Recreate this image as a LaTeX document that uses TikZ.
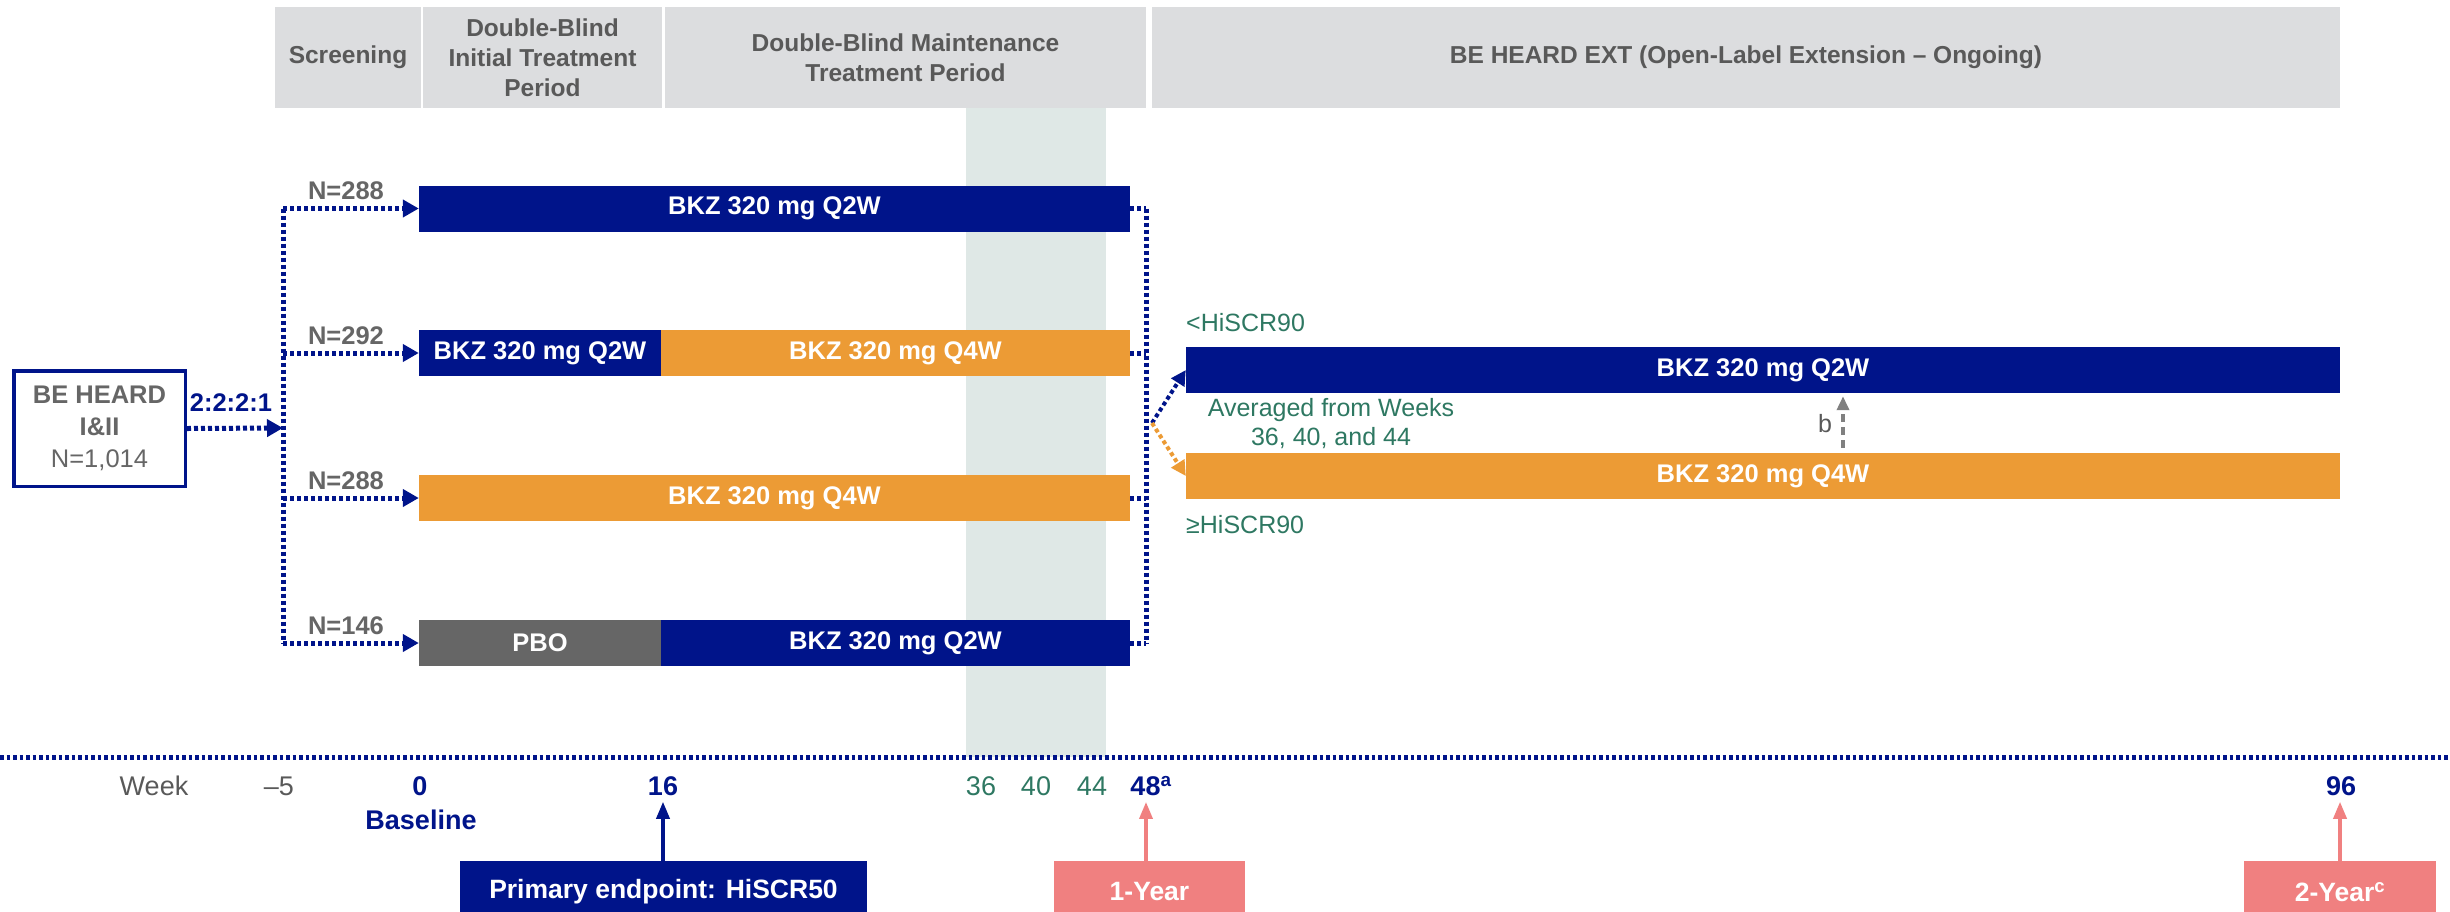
\documentclass[tikz,border=0pt]{standalone}
\usepackage{fontspec}
\setmainfont{Liberation Sans}
\usetikzlibrary{arrows.meta}
\definecolor{navy}{HTML}{00148A}
\definecolor{orng}{HTML}{EC9B35}
\definecolor{pbo}{HTML}{666666}
\definecolor{hdrfill}{HTML}{DCDDDF}
\definecolor{hdrtext}{HTML}{595959}
\definecolor{shadecol}{HTML}{DFE8E6}
\definecolor{grn}{HTML}{2E7862}
\definecolor{salmon}{HTML}{F08080}
\definecolor{ngray}{HTML}{666666}
\definecolor{bgray}{HTML}{808080}
\begin{document}
\begin{tikzpicture}[x=1pt,y=-1pt,
  hdr/.style={fill=hdrfill, text=hdrtext, font=\fontsize{24.5}{30}\selectfont\bfseries, align=center, minimum height=101pt, inner sep=0pt},
  bar/.style={text=white, font=\fontsize{25.5}{30}\selectfont\bfseries, minimum height=46pt, inner sep=0pt},
  nlab/.style={text=ngray, font=\fontsize{25.5}{30}\selectfont\bfseries, inner sep=0pt},
  grntxt/.style={text=grn, font=\fontsize{25}{29}\selectfont, inner sep=0pt},
  wk/.style={font=\fontsize{27}{32}\selectfont, inner sep=0pt},
  wkgray/.style={wk, text=hdrtext},
  wkgrn/.style={wk, text=grn},
  wknavy/.style={wk, text=navy, font=\fontsize{27}{32}\selectfont\bfseries},
  botbox/.style={text=white, font=\fontsize{26.5}{32}\selectfont\bfseries, minimum height=62pt, inner sep=0pt},
  dotline/.style={navy, line width=5pt, dash pattern=on 4pt off 3pt},
  dotarrow/.style={dotline, -{Triangle[length=16pt,width=17pt]}},
  thinarrow/.style={line width=4pt, dash pattern=on 4pt off 3pt, -{Triangle[length=15pt,width=15pt]}},
  tldots/.style={navy, line width=5pt, dash pattern=on 3.5pt off 3pt},
  uparrow/.style={line width=3.5pt, -{Triangle[length=17pt,width=13pt]}}
]
\useasboundingbox (0,0) rectangle (2450,911);
\clip (0,0) rectangle (2450,911);
\fill[white] (0,0) rectangle (2450,911);
% shaded weeks 36-44 column
\fill[shadecol] (966,108) rectangle (1106,757);
% headers
\node[hdr, minimum width=146pt] (h1) at (348,57.5) {Screening};
\node[hdr, minimum width=239pt] (h2) at (542.5,57.5) {Double-Blind\\Initial Treatment\\Period};
\node[hdr, minimum width=481pt] (h3) at (905.5,57.5) {Double-Blind Maintenance\\Treatment Period};
\node[hdr, minimum width=1188pt] (h4) at (1746,57.5) {BE HEARD EXT (Open-Label Extension – Ongoing)};
% source box
\node[draw=navy, line width=3.5pt, minimum width=171.5pt, minimum height=115.5pt, inner sep=0pt, align=center, text=ngray, font=\fontsize{25.5}{32}\selectfont] (src) at (99.5,428.5) {\bfseries BE HEARD\\\bfseries I\&II\\N=1,014};
\node[text=navy, font=\fontsize{25.5}{30}\selectfont\bfseries, inner sep=0pt] (ratio) at (231,403) {2:2:2:1};
% treatment bars
\node[bar, fill=navy, minimum width=711pt] (r1) at (774.5,208.5) {BKZ 320 mg Q2W};
\node[bar, fill=navy, minimum width=242pt] (r2a) at (540,353) {BKZ 320 mg Q2W};
\node[bar, fill=orng, minimum width=469pt] (r2b) at (895.5,353) {BKZ 320 mg Q4W};
\node[bar, fill=orng, minimum width=711pt] (r3) at (774.5,498) {BKZ 320 mg Q4W};
\node[bar, fill=pbo, minimum width=242pt] (r4a) at (540,643) {PBO};
\node[bar, fill=navy, minimum width=469pt] (r4b) at (895.5,643) {BKZ 320 mg Q2W};
% N labels
\node[nlab] (n1) at (346,191) {N=288};
\node[nlab] (n2) at (346,336) {N=292};
\node[nlab] (n3) at (346,481) {N=288};
\node[nlab] (n4) at (346,626) {N=146};
% left randomisation connectors
\coordinate (lsplit) at (283,428);
\draw[dotarrow] (src.east) -- (lsplit);
\draw[dotline] (r1.west -| lsplit) -- (r4a.west -| lsplit);
\foreach \b in {r1,r2a,r3,r4a} \draw[dotarrow] (\b.west -| lsplit) -- (\b.west);
% extension bars
\node[bar, fill=navy, minimum width=1154pt] (e1) at (1763,370) {BKZ 320 mg Q2W};
\node[bar, fill=orng, minimum width=1154pt] (e2) at (1763,476) {BKZ 320 mg Q4W};
% right connectors
\coordinate (rvx) at (1146,0);
\foreach \b in {r1,r2b,r3,r4b} \draw[dotline] (\b.east) -- (\b.east -| rvx);
\draw[dotline] (r1.east -| rvx) -- (r4b.east -| rvx);
\coordinate (rsplit) at (1152,423);
\draw[thinarrow, navy] (rsplit) -- (e1.west);
\draw[thinarrow, orng] (rsplit) -- (e2.west);
% extension labels
\node[grntxt, anchor=west] (lt) at (1186,323) {<HiSCR90};
\node[grntxt, anchor=west] (ge) at (1186,525) {≥HiSCR90};
\node[grntxt, align=center] (avg) at (1331,424) {Averaged from Weeks\\36, 40, and 44};
% b arrow
\coordinate (bx) at (1843,0);
\draw[bgray, line width=3.5pt, dash pattern=on 8pt off 5pt, -{Triangle[length=14pt,width=12pt]}, shorten <=5pt, shorten >=3pt] (e2.north -| bx) -- (e1.south -| bx);
\node[text=hdrtext, font=\fontsize{25}{30}\selectfont, inner sep=0pt] (blab) at (1825,424) {b};
% timeline
\coordinate (tl0) at (0,757);
\coordinate (tl1) at (2450,757);
\draw[tldots] (tl0) -- (tl1);
\node[wkgray] (wweek) at (154,786) {Week};
\node[wkgray] (wm5) at (279,786) {–5};
\node[wknavy] (w0) at (420,786) {0};
\node[wknavy] (w16) at (663,786) {16};
\node[wkgrn] (w36) at (981,786) {36};
\node[wkgrn] (w40) at (1036,786) {40};
\node[wkgrn] (w44) at (1092,786) {44};
\node[wknavy] (w48) at (1151,786) {48\textsuperscript{a}};
\node[wknavy] (w96) at (2341,786) {96};
\node[wknavy] (wbase) at (421,820) {Baseline};
% bottom boxes
\node[botbox, fill=navy, minimum width=407pt] (prim) at (663.5,892) {Primary endpoint: HiSCR50};
\node[botbox, fill=salmon, minimum width=191pt] (y1) at (1149.5,892) {1-Year};
\node[botbox, fill=salmon, minimum width=192pt] (y2) at (2340,892) {2-Year\textsuperscript{c}};
\draw[uparrow, navy, shorten >=6pt] (prim.north -| w16) -- (w16.south);
\draw[uparrow, salmon, shorten >=6pt] (y1.north -| 1146,0) -- (w48.south -| 1146,0);
\draw[uparrow, salmon, shorten >=6pt] (y2.north) -- (y2.north |- w96.south);
\end{tikzpicture}
\end{document}
